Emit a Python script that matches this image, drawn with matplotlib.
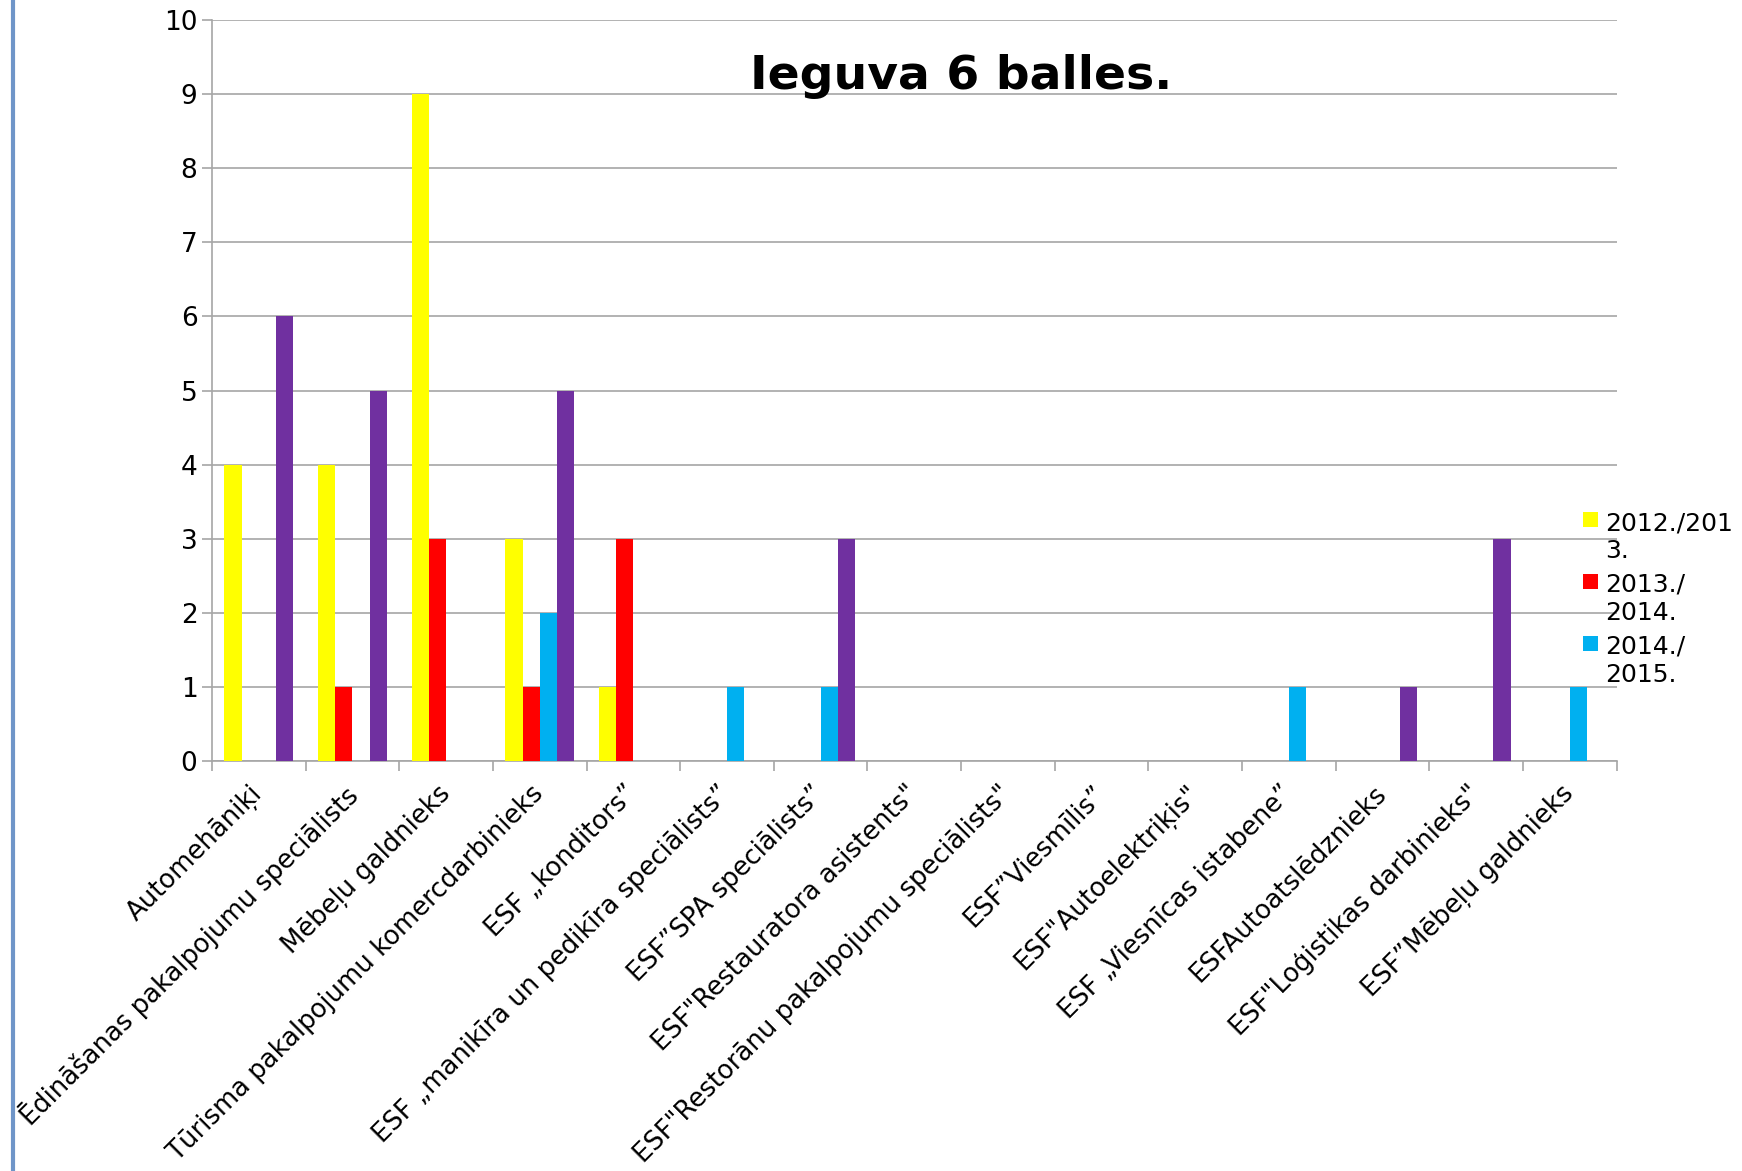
import numpy as np
import matplotlib
matplotlib.use("Agg")
import matplotlib.pyplot as plt
import matplotlib.transforms as mtransforms
from matplotlib.lines import Line2D
from matplotlib.patches import Rectangle

categories = [
    "Automehāniķi",
    "Ēdināšanas pakalpojumu speciālists",
    "Mēbeļu galdnieks",
    "Tūrisma pakalpojumu komercdarbinieks",
    "ESF „konditors”",
    "ESF „manikīra un pedikīra speciālists”",
    "ESF”SPA speciālists”",
    "ESF\"Restauratora asistents\"",
    "ESF\"Restorānu pakalpojumu speciālists\"",
    "ESF”Viesmīlis”",
    "ESF\"Autoelektriķis\"",
    "ESF „Viesnīcas istabene”",
    "ESFAutoatslēdznieks",
    "ESF\"Loģistikas darbinieks\"",
    "ESF”Mēbeļu galdnieks",
]

y2012 = [4, 4, 9, 3, 1, 0, 0, 0, 0, 0, 0, 0, 0, 0, 0]
y2013 = [0, 1, 3, 1, 3, 0, 0, 0, 0, 0, 0, 0, 0, 0, 0]
y2014 = [0, 0, 0, 2, 0, 1, 1, 0, 0, 0, 0, 1, 0, 0, 1]
y2015 = [6, 5, 0, 5, 0, 0, 3, 0, 0, 0, 0, 0, 1, 3, 0]

series = [y2012, y2013, y2014, y2015]
colors = ["#FFFF00", "#FF0000", "#00B0F0", "#7030A0"]
legend_labels = ["2012./201\n3.", "2013./\n2014.", "2014./\n2015."]

W, H = 1742, 1171
fig = plt.figure(figsize=(W / 100, H / 100), dpi=100)
ax = fig.add_axes([0.1217, 0.350, 0.8063, 0.633])

x = np.arange(len(categories))
w = 0.184
for i, (vals, c) in enumerate(zip(series, colors)):
    ax.bar(x - 1.5 * w + i * w, vals, w, color=c, zorder=3)

ax.set_xlim(-0.5, len(categories) - 0.5)
ax.set_ylim(0, 10)
ax.set_yticks(range(0, 11))
ax.yaxis.grid(True, color="#a6a6a6", linewidth=1.2, zorder=0)
ax.tick_params(axis="y", labelsize=19, length=7, color="#a6a6a6", width=1.2)

ax.set_xticks(np.arange(len(categories) + 1) - 0.5)
ax.set_xticklabels([])
ax.tick_params(axis="x", length=7, color="#a6a6a6", width=1.2)
shift = mtransforms.ScaledTranslation(-9 / 100, 0, fig.dpi_scale_trans)
for xi, lab in zip(x, categories):
    ax.text(xi, -0.26, lab, rotation=45, ha="right", va="top",
            rotation_mode="anchor", fontsize=18.6,
            transform=ax.transData + shift)

for s in ["top", "right"]:
    ax.spines[s].set_visible(False)
for s in ["left", "bottom"]:
    ax.spines[s].set_color("#a6a6a6")
    ax.spines[s].set_linewidth(1.2)

fig.text(0.552, 0.935, "Ieguva 6 balles.", ha="center", va="center",
         fontsize=34, fontweight="bold")

# legend: square aligned with first line of each (wrapped) label
for i, (lab, c) in enumerate(zip(legend_labels, colors[:3])):
    yc = 520 + 62 * i
    fig.add_artist(Rectangle((1583 / W, 1 - (yc + 7) / H), 15 / W, 15 / H,
                             facecolor=c, edgecolor="none",
                             transform=fig.transFigure))
    fig.text(1605 / W, 1 - (yc - 9) / H, lab, ha="left", va="top",
             fontsize=18, linespacing=1.2)

fig.add_artist(Line2D([0.0075, 0.0075], [0, 1], color="#6f95c8",
                      linewidth=3, transform=fig.transFigure))

fig.savefig("out.png", dpi=100)
